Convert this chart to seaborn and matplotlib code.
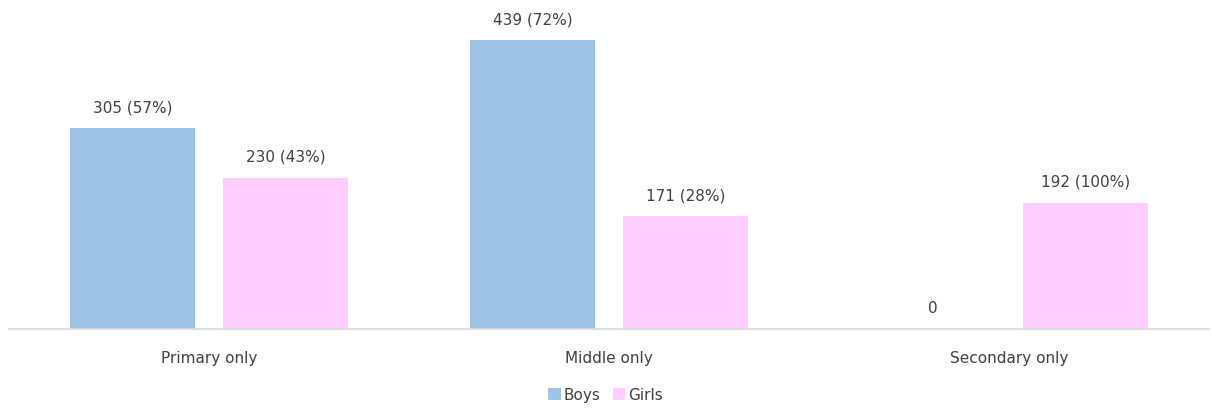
import matplotlib
matplotlib.use("Agg")
import matplotlib.pyplot as plt
import seaborn as sns
import pandas as pd

categories = ["Primary only", "Middle only", "Secondary only"]
boys = [305, 439, 0]
girls = [230, 171, 192]
boys_pct = [57, 72, None]
girls_pct = [43, 28, 100]

sns.set_theme(style="white")
plt.rcParams['font.family'] = ['DejaVu Sans']

rows = []
for c, b, g in zip(categories, boys, girls):
    rows.append({"cat": c, "sex": "Boys", "val": b})
    rows.append({"cat": c, "sex": "Girls", "val": g})
df = pd.DataFrame(rows)

fig = plt.figure(figsize=(12.11, 4.10), dpi=100)
ax = fig.add_axes([9/1211, 80/410, 1200/1211, 329/410])
palette = {"Boys": "#9DC3E6", "Girls": "#FFCCFF"}
sns.barplot(data=df, x="cat", y="val", hue="sex", palette=palette, width=0.765, gap=0.183,
            ax=ax, saturation=1, legend=True, edgecolor="none")
ax.set_xlim(-0.5, 2.5)
ax.set_ylim(0, 500)
ax.set_xlabel("")
ax.set_ylabel("")
ax.set_yticks([])
for s in ["top", "right", "left"]:
    ax.spines[s].set_visible(False)
ax.spines["bottom"].set_color("#D9D9D9")
ax.spines["bottom"].set_linewidth(1.2)
ax.tick_params(axis="x", length=0, pad=15, labelsize=11, labelcolor="#404040")

lab_sets = [
    [f"{v} ({p}%)" if p is not None else f"{v}" for v, p in zip(boys, boys_pct)],
    [f"{v} ({p}%)" for v, p in zip(girls, girls_pct)],
]
for cont, labs in zip(ax.containers, lab_sets):
    ax.bar_label(cont, labels=labs, padding=10, fontsize=11, color="#404040")

handles, labels = ax.get_legend_handles_labels()
ax.get_legend().remove()
fig.legend(handles, labels, loc="center", bbox_to_anchor=(0.5, 14/410), ncol=2, frameon=False,
           fontsize=11, handlelength=0.8, handleheight=0.8, handletextpad=0.2, columnspacing=0.8,
           labelcolor="#404040")

fig.savefig("out.png", dpi=100)
